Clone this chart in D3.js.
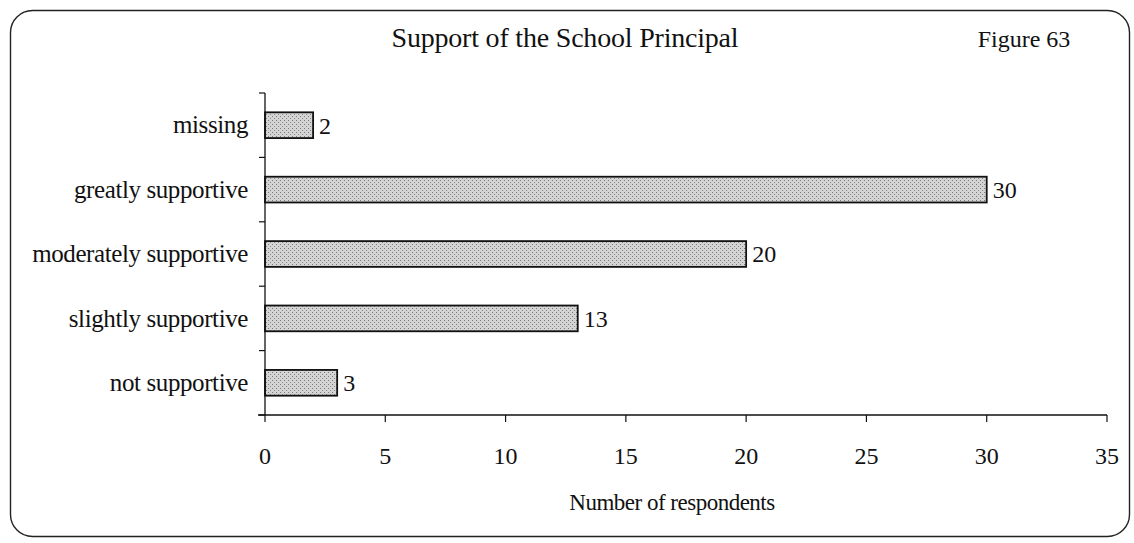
<!DOCTYPE html>
<html><head><meta charset="utf-8">
<script src="https://cdn.jsdelivr.net/npm/d3@7"></script>
<style>body{margin:0;background:#fff}svg{display:block}text{font-family:"Liberation Serif","Times New Roman",serif;fill:#111}</style>
</head><body>
<svg id="c" width="1134" height="543"></svg>
<script>
const categories = ["missing","greatly supportive","moderately supportive","slightly supportive","not supportive"];
const values = [2,30,20,13,3];
const xTicks = [0,5,10,15,20,25,30,35];
const title = "Support of the School Principal";
const figLabel = "Figure 63";
const xTitle = "Number of respondents";

const svg = d3.select("#c");
const defs = svg.append("defs");
const pat = defs.append("pattern").attr("id","stip").attr("width",4).attr("height",4).attr("patternUnits","userSpaceOnUse");
pat.append("rect").attr("width",4).attr("height",4).attr("fill","#d4d4d4");
pat.append("rect").attr("x",0).attr("y",0).attr("width",1).attr("height",1).attr("fill","#7a7a7a");
pat.append("rect").attr("x",2).attr("y",2).attr("width",1).attr("height",1).attr("fill","#8a8a8a");

// border
svg.append("rect").attr("x",10.5).attr("y",10.5).attr("width",1119).attr("height",526)
  .attr("rx",22).attr("ry",22).attr("fill","none").attr("stroke","#222").attr("stroke-width",1.4);

const x = d3.scaleLinear().domain([0,35]).range([265,1107]);
const y = d3.scaleBand().domain(categories).range([93,415]).paddingInner(0.6).paddingOuter(0.3);
const yb = d3.scaleBand().domain(categories).range([93,415]);

// bars
svg.selectAll(".bar").data(values).enter().append("rect")
  .attr("x",x(0)).attr("y",(d,i)=>y(categories[i]))
  .attr("width",d=>x(d)-x(0)).attr("height",y.bandwidth())
  .attr("fill","url(#stip)").attr("stroke","#111").attr("stroke-width",1.8);

// value labels
svg.selectAll(".val").data(values).enter().append("text")
  .attr("x",d=>x(d)+6).attr("y",(d,i)=>y(categories[i])+y.bandwidth()/2).attr("dy","0.35em")
  .attr("font-size",24).text(d=>d);

// y axis
const gy = svg.append("g");
gy.append("line").attr("x1",265).attr("x2",265).attr("y1",93).attr("y2",415).attr("stroke","#111").attr("stroke-width",1.3);
const bounds = categories.map(c=>yb(c)).concat([415]);
gy.selectAll(".yt").data(bounds).enter().append("line")
  .attr("x1",259).attr("x2",265).attr("y1",d=>d).attr("y2",d=>d).attr("stroke","#111").attr("stroke-width",1.2);
gy.selectAll(".yl").data(categories).enter().append("text")
  .attr("x",248).attr("y",d=>yb(d)+yb.bandwidth()/2).attr("dy","0.33em").attr("text-anchor","end")
  .attr("font-size",25).attr("letter-spacing","-0.4").text(d=>d);

// x axis
const gx = svg.append("g");
gx.append("line").attr("x1",258).attr("x2",1107).attr("y1",415).attr("y2",415).attr("stroke","#111").attr("stroke-width",1.3);
gx.selectAll(".xt").data(xTicks).enter().append("line")
  .attr("x1",d=>x(d)).attr("x2",d=>x(d)).attr("y1",415).attr("y2",422).attr("stroke","#111").attr("stroke-width",1.2);
gx.selectAll(".xl").data(xTicks).enter().append("text")
  .attr("x",d=>x(d)).attr("y",464).attr("text-anchor","middle").attr("font-size",24).text(d=>d);

svg.append("text").attr("x",672).attr("y",510).attr("text-anchor","middle").attr("font-size",23).attr("letter-spacing","-0.5").text(xTitle);
svg.append("text").attr("x",565).attr("y",47).attr("text-anchor","middle").attr("font-size",28).attr("letter-spacing","-0.2").text(title);
svg.append("text").attr("x",1024).attr("y",47).attr("text-anchor","middle").attr("font-size",24).text(figLabel);
</script>
</body></html>
